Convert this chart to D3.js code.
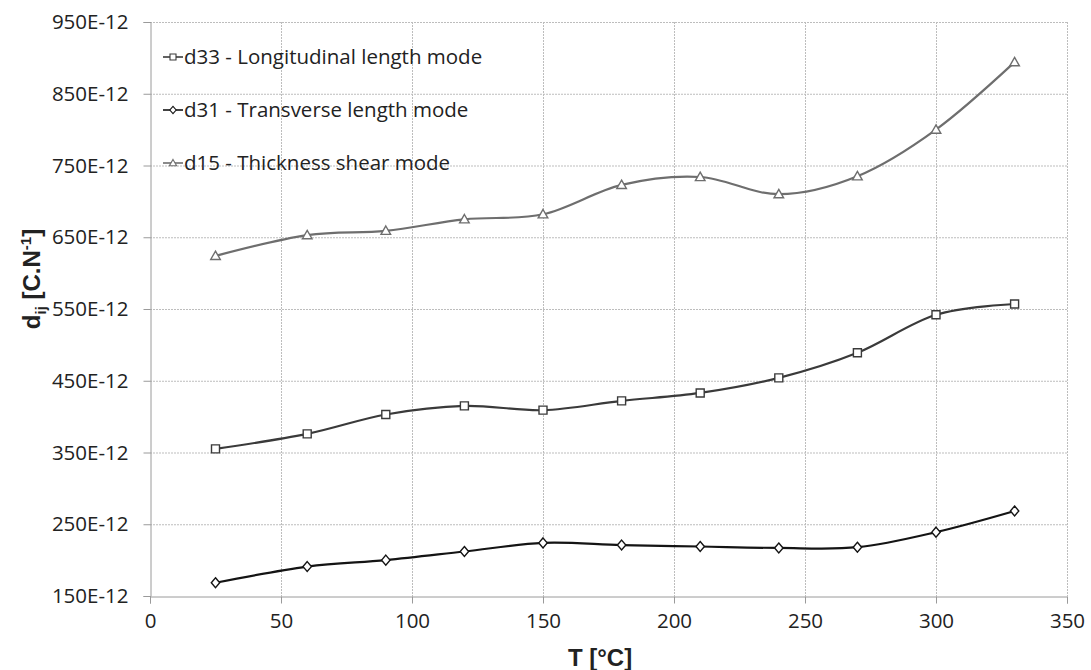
<!DOCTYPE html>
<html>
<head>
<meta charset="utf-8">
<script src="https://cdn.jsdelivr.net/npm/d3@7"></script>
<style>
body { margin: 0; background: #fff; }
text { font-family: "Open Sans", sans-serif; fill: #222; }
</style>
</head>
<body>
<div id="chart"></div>
<script>
// 温度 (°C)
var temps = [25, 60, 90, 120, 150, 180, 210, 240, 270, 300, 330];
// 各模式的压电系数 (E-12 C/N)
var d33 = [355, 376, 403, 415, 409, 422, 433, 454, 489, 542, 557];
var d31 = [168.5, 191, 200, 212, 224, 221, 219, 217, 218, 239, 268.5];
var d15 = [624, 653, 659, 675, 682, 723, 734, 710, 735, 800, 894];
var xTicks = [0, 50, 100, 150, 200, 250, 300, 350];
var yTicks = [150, 250, 350, 450, 550, 650, 750, 850, 950];
var seriesNames = ["d33 - Longitudinal length mode", "d31 - Transverse length mode", "d15 - Thickness shear mode"];

var W = 1091, H = 670;
var plotLeft = 150, plotRight = 1067, plotTop = 22, plotBottom = 596; // 绘图区边界

var svg = d3.select("#chart").append("svg").attr("width", W).attr("height", H);

var x = d3.scaleLinear().domain([0, 350]).range([plotLeft, plotRight]);
var y = d3.scaleLinear().domain([150, 950]).range([plotBottom, plotTop]);

// 网格线
svg.append("g").selectAll("line").data(yTicks.slice(1)).enter().append("line")
	.attr("x1", plotLeft).attr("x2", plotRight)
	.attr("y1", function(d) { return y(d) + 0.5; }).attr("y2", function(d) { return y(d) + 0.5; })
	.attr("stroke", "#bdbdbd").attr("stroke-width", 1).attr("stroke-dasharray", "2,1");
svg.append("g").selectAll("line").data(xTicks.slice(1)).enter().append("line")
	.attr("y1", plotTop).attr("y2", plotBottom)
	.attr("x1", function(d) { return x(d) + 0.5; }).attr("x2", function(d) { return x(d) + 0.5; })
	.attr("stroke", "#bdbdbd").attr("stroke-width", 1).attr("stroke-dasharray", "2,1");

// 坐标轴
var xAxis = svg.append("g").attr("transform", "translate(0," + (plotBottom + 0.5) + ")")
	.call(d3.axisBottom(x).tickValues(xTicks).tickSize(7).tickPadding(10).tickFormat(d3.format("d")));
var yAxis = svg.append("g").attr("transform", "translate(" + (plotLeft + 0.5) + ",0)")
	.call(d3.axisLeft(y).tickValues(yTicks).tickSize(7).tickPadding(15).tickFormat(function(d) { return d + "E-12"; }));
[xAxis, yAxis].forEach(function(a) {
	a.select(".domain").attr("stroke", "#9a9a9a");
	a.selectAll(".tick line").attr("stroke", "#9a9a9a");
	a.selectAll(".tick text").attr("font-size", "20.5px").attr("font-family", "'Open Sans', sans-serif").attr("fill", "#222");
});

// 轴标题
svg.append("text").attr("x", 600).attr("y", 666).attr("text-anchor", "middle")
	.style("font-family", "'Liberation Sans', Arial, sans-serif").style("font-weight", "bold").style("font-size", "24px")
	.text("T [°C]");
var yt = svg.append("text").attr("transform", "translate(40,279) rotate(-90)").attr("text-anchor", "middle")
	.style("font-family", "'Liberation Sans', Arial, sans-serif").style("font-weight", "bold").style("font-size", "24px");
yt.append("tspan").text("d");
yt.append("tspan").attr("dy", 6).style("font-size", "15px").text("ij");
yt.append("tspan").attr("dy", -6).text(" [C.N");
yt.append("tspan").attr("dy", -9).style("font-size", "15px").text("-1");
yt.append("tspan").attr("dy", 9).text("]");

// 数据系列
var series = [
	{ name: seriesNames[0], values: d33, color: "#3a3a3a", shape: "square" },
	{ name: seriesNames[1], values: d31, color: "#141414", shape: "diamond" },
	{ name: seriesNames[2], values: d15, color: "#6e6e6e", shape: "triangle" }
];

var line = d3.line()
	.x(function(d) { return x(d[0]); })
	.y(function(d) { return y(d[1]); })
	.curve(d3.curveCardinal.tension(0));

function markerPath(shape, size) {
	if (shape === "diamond") {
		var s = size * 0.62;
		return "M0," + (-s) + "L" + (s * 0.85) + ",0L0," + s + "L" + (-s * 0.85) + ",0Z";
	}
	if (shape === "triangle") {
		return "M0," + (-size * 0.6) + "L" + (size * 0.6) + "," + (size * 0.45) + "L" + (-size * 0.6) + "," + (size * 0.45) + "Z";
	}
	return "M" + (-size / 2) + "," + (-size / 2) + "h" + size + "v" + size + "h" + (-size) + "Z";
}

series.forEach(function(s) {
	var pts = temps.map(function(t, i) { return [t, s.values[i]]; });
	svg.append("path").datum(pts).attr("d", line)
		.attr("fill", "none").attr("stroke", s.color).attr("stroke-width", 2.2);
	svg.append("g").selectAll("path").data(pts).enter().append("path")
		.attr("transform", function(d) { return "translate(" + x(d[0]) + "," + y(d[1]) + ")"; })
		.attr("d", markerPath(s.shape, 8))
		.attr("fill", "#fff").attr("stroke", s.color).attr("stroke-width", 1.4);
});

// 图例
var legend = svg.append("g");
series.forEach(function(s, i) {
	var cy = 57 + i * 53;
	legend.append("line").attr("x1", 163).attr("x2", 183).attr("y1", cy).attr("y2", cy)
		.attr("stroke", s.color).attr("stroke-width", 1.6);
	legend.append("path").attr("transform", "translate(173," + cy + ")")
		.attr("d", markerPath(s.shape, 6)).attr("fill", "#fff").attr("stroke", s.color).attr("stroke-width", 1.1);
	legend.append("text").attr("x", 184).attr("y", cy).attr("dy", "0.36em")
		.style("font-size", "20.5px").text(s.name);
});
</script>
</body>
</html>
